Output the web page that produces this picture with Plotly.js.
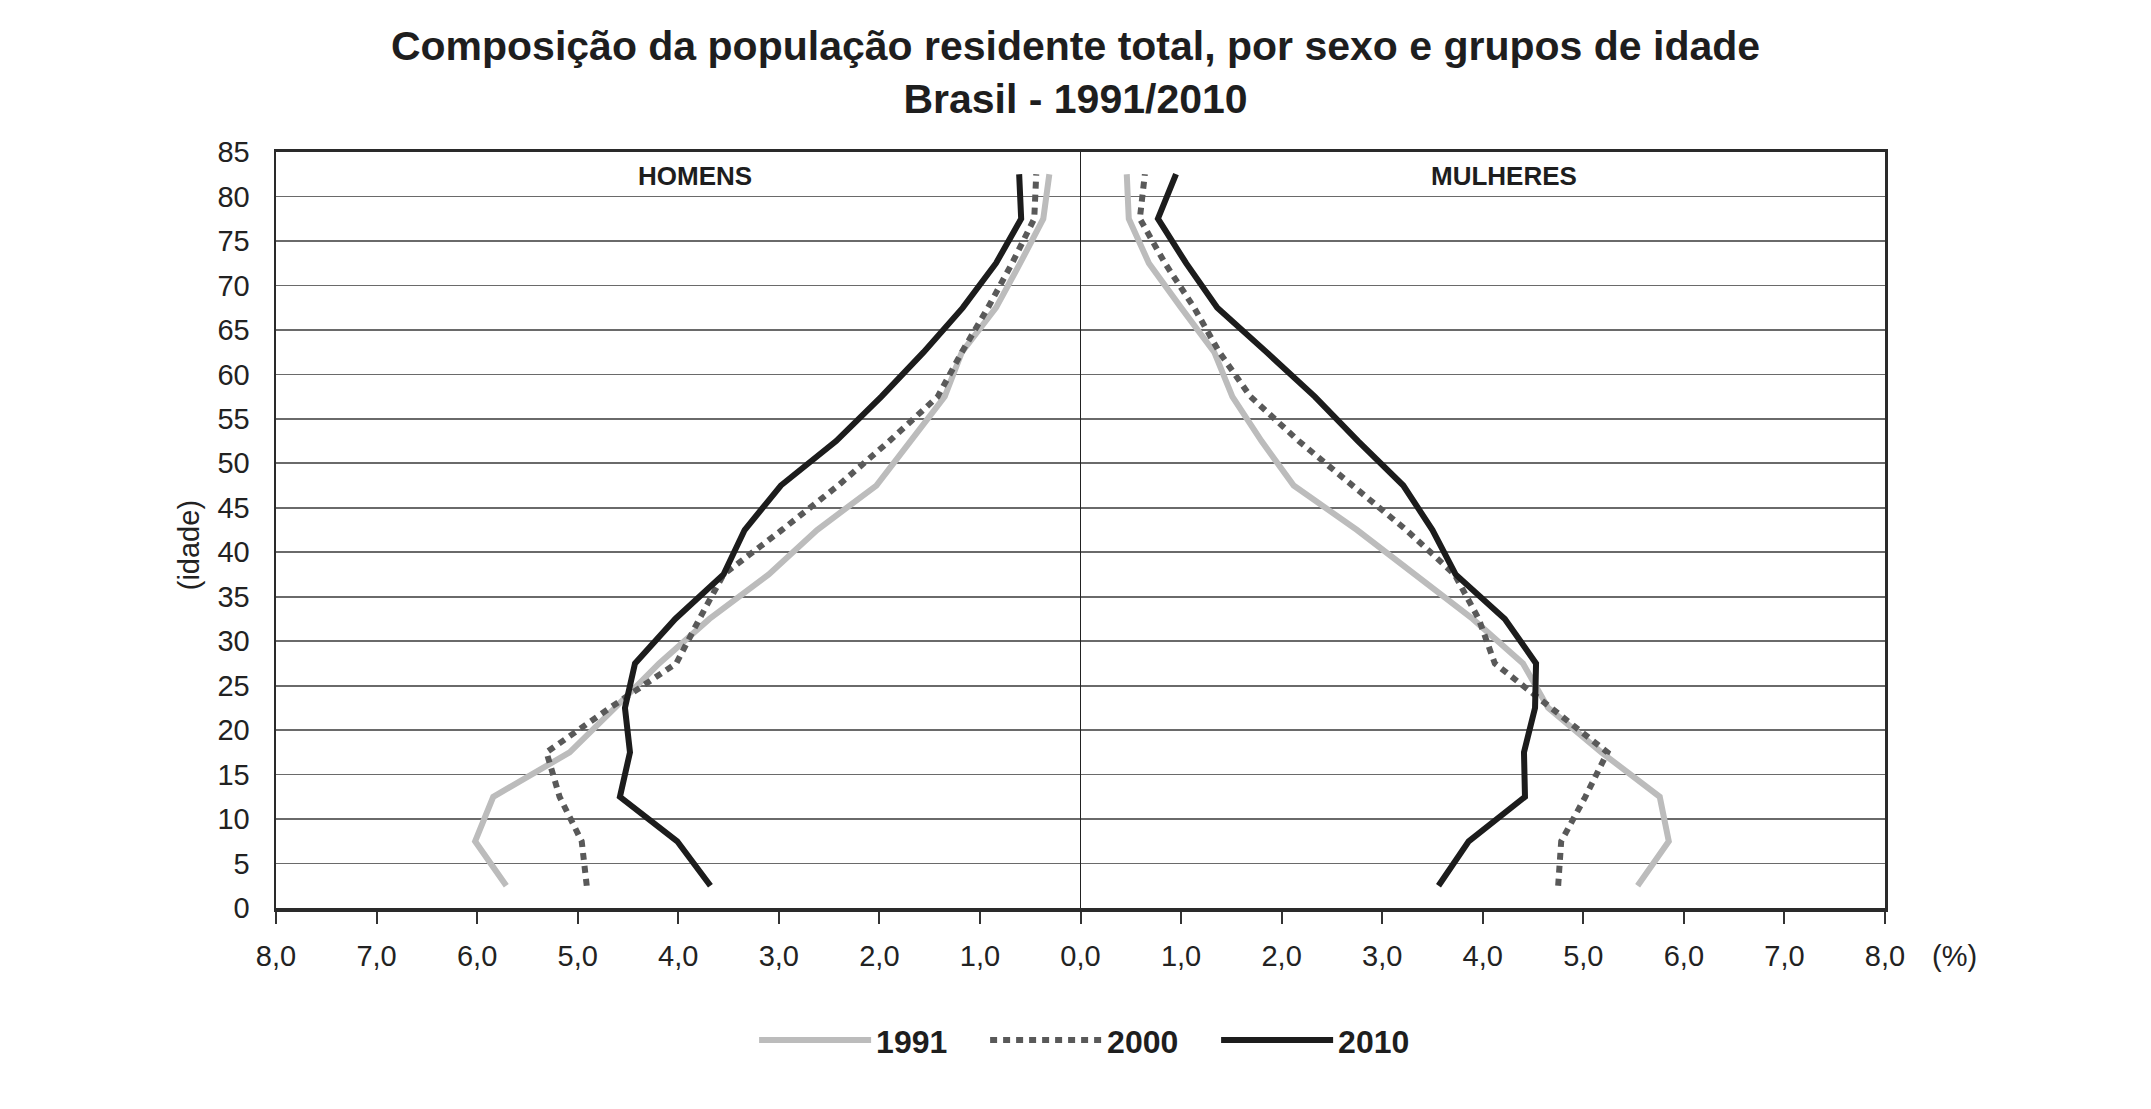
<!DOCTYPE html>
<html>
<head>
<meta charset="utf-8">
<script src="https://cdn.plot.ly/plotly-3.0.1.min.js"></script>
<style>
  html, body { margin: 0; padding: 0; background: #ffffff; }
  #chart { width: 2151px; height: 1109px; }
</style>
</head>
<body>
<div id="chart"></div>
<script>
// Age groups (0-4 ... 80+), plotted at the middle of each group
var ageGroups = ["0-4","5-9","10-14","15-19","20-24","25-29","30-34","35-39","40-44","45-49","50-54","55-59","60-64","65-69","70-74","75-79","80+"];
var ageMid = [2.5, 7.5, 12.5, 17.5, 22.5, 27.5, 32.5, 37.5, 42.5, 47.5, 52.5, 57.5, 62.5, 67.5, 72.5, 77.5, 82.5];

// Share of total population (%), HOMENS
var men1991 = [5.71, 6.02, 5.84, 5.08, 4.63, 4.19, 3.69, 3.10, 2.62, 2.03, 1.69, 1.35, 1.18, 0.84, 0.60, 0.37, 0.31];
var men2000 = [4.91, 4.96, 5.18, 5.31, 4.68, 4.02, 3.79, 3.55, 2.97, 2.41, 1.90, 1.42, 1.18, 0.92, 0.68, 0.46, 0.44];
var men2010 = [3.68, 4.01, 4.58, 4.48, 4.53, 4.43, 4.03, 3.55, 3.34, 2.98, 2.43, 1.98, 1.56, 1.17, 0.84, 0.59, 0.61];

// Share of total population (%), MULHERES
var women1991 = [5.54, 5.85, 5.76, 5.18, 4.65, 4.40, 3.90, 3.32, 2.75, 2.12, 1.80, 1.51, 1.33, 1.00, 0.68, 0.48, 0.46];
var women2000 = [4.75, 4.78, 5.02, 5.24, 4.68, 4.12, 3.96, 3.72, 3.24, 2.71, 2.17, 1.69, 1.38, 1.13, 0.84, 0.59, 0.64];
var women2010 = [3.56, 3.86, 4.42, 4.41, 4.52, 4.53, 4.22, 3.73, 3.50, 3.21, 2.76, 2.33, 1.85, 1.36, 1.05, 0.77, 0.95];

var years = ["1991", "2000", "2010"];
var xTickVals = [-8,-7,-6,-5,-4,-3,-2,-1,0,1,2,3,4,5,6,7,8];
var xTickText = ["8,0","7,0","6,0","5,0","4,0","3,0","2,0","1,0","0,0","1,0","2,0","3,0","4,0","5,0","6,0","7,0","8,0"];
var yTickVals = [0,5,10,15,20,25,30,35,40,45,50,55,60,65,70,75,80,85];

var FONT = '"Liberation Sans", Arial, Helvetica, sans-serif';

var styles = {
  "1991": {color: "#bcbcbc", width: 6, dash: "solid"},
  "2000": {color: "#595959", width: 6, dash: "7px,6px"},
  "2010": {color: "#1c1c1c", width: 6, dash: "solid"}
};

var menData = {"1991": men1991, "2000": men2000, "2010": men2010};
var womenData = {"1991": women1991, "2000": women2000, "2010": women2010};

var traces = [];
years.forEach(function (yr) {
  var st = styles[yr];
  traces.push({
    type: "scatter", mode: "lines", name: yr, legendgroup: yr, showlegend: true,
    x: menData[yr].map(function (v) { return -v; }), y: ageMid,
    line: {color: st.color, width: st.width, dash: st.dash},
    hoverinfo: "skip"
  });
  traces.push({
    type: "scatter", mode: "lines", name: yr, legendgroup: yr, showlegend: false,
    x: womenData[yr], y: ageMid,
    line: {color: st.color, width: st.width, dash: st.dash},
    hoverinfo: "skip"
  });
});

var layout = {
  width: 2151, height: 1109,
  paper_bgcolor: "#ffffff", plot_bgcolor: "#ffffff",
  margin: {l: 276, r: 266, t: 152, b: 201, pad: 0},
  font: {family: FONT, color: "#222222", size: 29},
  title: {
    text: "Composição da população residente total, por sexo e grupos de idade<br>Brasil - 1991/2010",
    font: {family: FONT, size: 41, color: "#1e1e1e", weight: 700},
    x: 0.5, xref: "container", xanchor: "center",
    y: 1 - 60/1109, yref: "container", yanchor: "top"
  },
  xaxis: {
    range: [-8, 8], tickmode: "array", tickvals: xTickVals, ticktext: xTickText,
    showgrid: false, zeroline: true, zerolinecolor: "#222222", zerolinewidth: 1.5,
    showline: true, linecolor: "#2a2a2a", linewidth: 3.5, mirror: true,
    ticks: "outside", ticklen: 12, tickwidth: 2, tickcolor: "#333333",
    ticklabelstandoff: 8,
    tickfont: {family: FONT, size: 29, color: "#222222"},
    fixedrange: true
  },
  yaxis: {
    range: [0, 85], tickmode: "array", tickvals: yTickVals,
    showgrid: true, gridcolor: "#6a6a6a", gridwidth: 1.7,
    zeroline: false,
    showline: true, linecolor: "#2a2a2a", linewidth: 2.5, mirror: true,
    ticks: "", ticklabelstandoff: 18,
    tickfont: {family: FONT, size: 29, color: "#222222"},
    fixedrange: true
  },
  showlegend: true,
  legend: {
    orientation: "h", x: 0.5125, xanchor: "center", y: -0.175, yanchor: "middle",
    font: {family: FONT, size: 32, color: "#1e1e1e", weight: 700},
    itemwidth: 112, entrywidth: 104, entrywidthmode: "pixels",
    bgcolor: "rgba(0,0,0,0)", traceorder: "normal"
  },
  annotations: [
    {text: "HOMENS", xref: "x", yref: "y", x: -3.83, y: 82.3, showarrow: false,
     xanchor: "center", yanchor: "middle",
     font: {family: FONT, size: 26, color: "#1e1e1e", weight: 700}},
    {text: "MULHERES", xref: "x", yref: "y", x: 4.21, y: 82.3, showarrow: false,
     xanchor: "center", yanchor: "middle",
     font: {family: FONT, size: 26, color: "#1e1e1e", weight: 700}},
    {text: "(idade)", xref: "paper", yref: "paper", x: -0.054, y: 0.48, showarrow: false,
     textangle: -90, xanchor: "center", yanchor: "middle",
     font: {family: FONT, size: 29, color: "#222222"}},
    {text: "(%)", xref: "paper", yref: "paper", x: 1.0435, y: -0.0635, showarrow: false,
     xanchor: "center", yanchor: "middle",
     font: {family: FONT, size: 29, color: "#222222"}}
  ]
};

Plotly.newPlot("chart", traces, layout, {displayModeBar: false, staticPlot: true});
</script>
</body>
</html>
